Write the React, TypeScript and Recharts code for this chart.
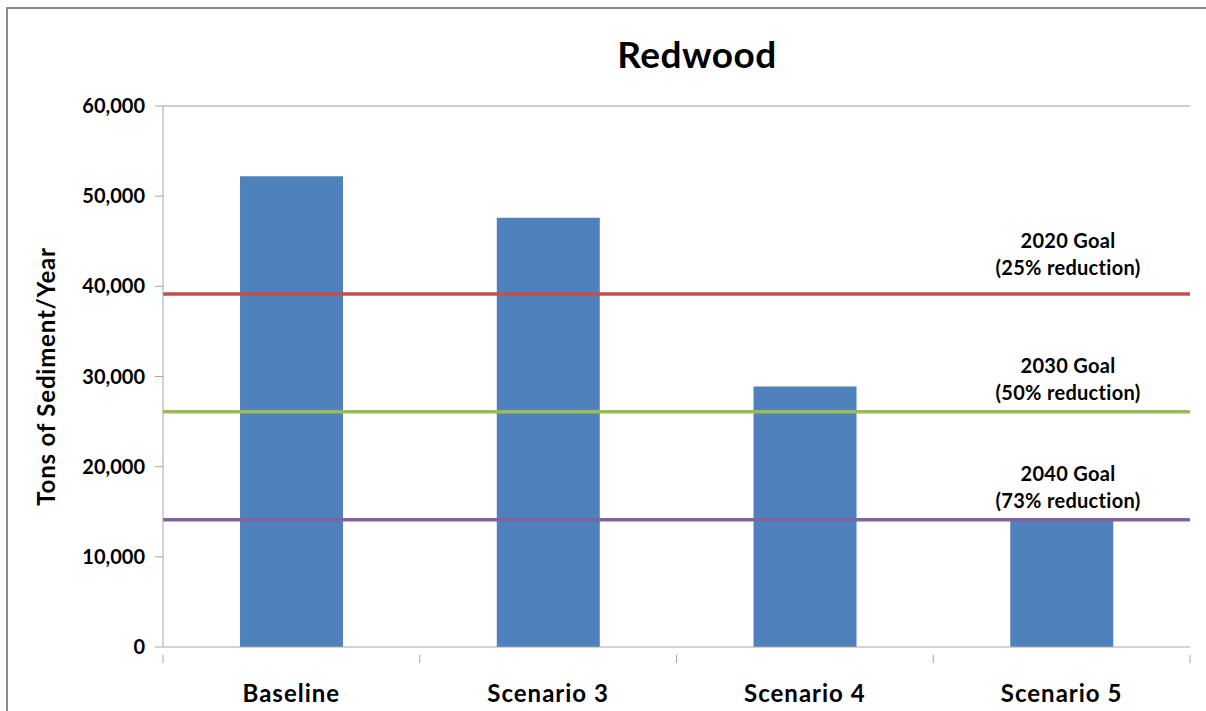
import {
  Bar,
  BarChart,
  Label,
  ReferenceLine,
  XAxis,
  YAxis,
} from "recharts";

const categories = ["Baseline", "Scenario 3", "Scenario 4", "Scenario 5"];
const sediment = [52200, 47600, 28900, 14100];

const goalNames = ["2020 Goal", "2030 Goal", "2040 Goal"];
const goalNotes = ["(25% reduction)", "(50% reduction)", "(73% reduction)"];
const goalValues = [39150, 26100, 14100];
const goalColors = ["#c0504d", "#9bbb59", "#8064a2"];

const yTicks = [0, 10000, 20000, 30000, 40000, 50000, 60000];

const data = categories.map((name, i) => ({ name, tons: sediment[i] }));

const font = "Lato, 'Open Sans', sans-serif";
const axisGray = "#a6a6a6";

// Excel puts category ticks between the bars, not under them
function CategoryTick(props: any) {
  const { x, y, payload, index, width } = props;
  const band = width / categories.length;
  const left = x - band / 2;
  return (
    <g>
      <line x1={left} x2={left} y1={y} y2={y + 8} stroke={axisGray} />
      {index === categories.length - 1 && (
        <line x1={left + band} x2={left + band} y1={y} y2={y + 8} stroke={axisGray} />
      )}
      <text
        x={x}
        y={y + 47}
        textAnchor="middle"
        fontFamily={font}
        fontWeight={700}
        fontSize={24}
        letterSpacing={1}
        fill="#000"
      >
        {payload.value}
      </text>
    </g>
  );
}

function GoalLabel({ viewBox, index }: any) {
  const cx = viewBox.x + viewBox.width - 122;
  const lift = index === 0 ? 7 : 0;
  const base = viewBox.y - 12 - lift;
  return (
    <text
      textAnchor="middle"
      fontFamily={font}
      fontWeight={700}
      fontSize={20}
      letterSpacing={0.3}
      fill="#000"
    >
      <tspan x={cx} y={base - 27}>
        {goalNames[index]}
      </tspan>
      <tspan x={cx} y={base}>
        {goalNotes[index]}
      </tspan>
    </text>
  );
}

export default function App() {
  return (
    <div
      style={{
        position: "absolute",
        left: 0,
        top: 0,
        width: 1206,
        height: 711,
        overflow: "hidden",
        background: "#fff",
      }}
    >
      <div
        style={{
          position: "absolute",
          left: 6,
          top: 7,
          right: -20,
          bottom: -20,
          borderTop: "2px solid #8a8a8a",
          borderLeft: "2px solid #8a8a8a",
        }}
      />
      <BarChart
        width={1206}
        height={711}
        data={data}
        margin={{ top: 106, right: 16, bottom: 0, left: 0 }}
        barCategoryGap="30%"
        style={{ position: "absolute", left: 0, top: 0 }}
      >
        <text
          x={697}
          y={68}
          textAnchor="middle"
          fontFamily={font}
          fontWeight={700}
          fontSize={37}
          letterSpacing={0.5}
          fill="#000"
        >
          Redwood
        </text>
        <XAxis
          dataKey="name"
          height={64}
          stroke={axisGray}
          tickLine={false}
          tick={<CategoryTick />}
          interval={0}
        />
        <YAxis
          width={163}
          domain={[0, 60000]}
          ticks={yTicks}
          interval={0}
          stroke={axisGray}
          tickSize={8}
          tickMargin={10}
          tickFormatter={(v: number) => v.toLocaleString("en-US")}
          tick={{ fontFamily: font, fontWeight: 700, fontSize: 20, fill: "#000" }}
        >
          <Label
            content={({ viewBox }: any) => (
              <text
                x={55}
                y={viewBox.y + viewBox.height / 2}
                transform={`rotate(-90 55 ${viewBox.y + viewBox.height / 2})`}
                textAnchor="middle"
                fontFamily={font}
                fontWeight={700}
                fontSize={24}
                letterSpacing={0.8}
                fill="#000"
              >
                Tons of Sediment/Year
              </text>
            )}
          />
        </YAxis>
        <ReferenceLine y={60000} stroke="#bcbcbc" strokeWidth={1.5} />
        <Bar dataKey="tons" fill="#4f81bd" isAnimationActive={false} />
        {goalValues.map((v, i) => (
          <ReferenceLine
            key={goalNames[i]}
            y={v}
            stroke={goalColors[i]}
            strokeWidth={3.5}
            label={(p: any) => <GoalLabel {...p} index={i} />}
          />
        ))}
      </BarChart>
    </div>
  );
}
